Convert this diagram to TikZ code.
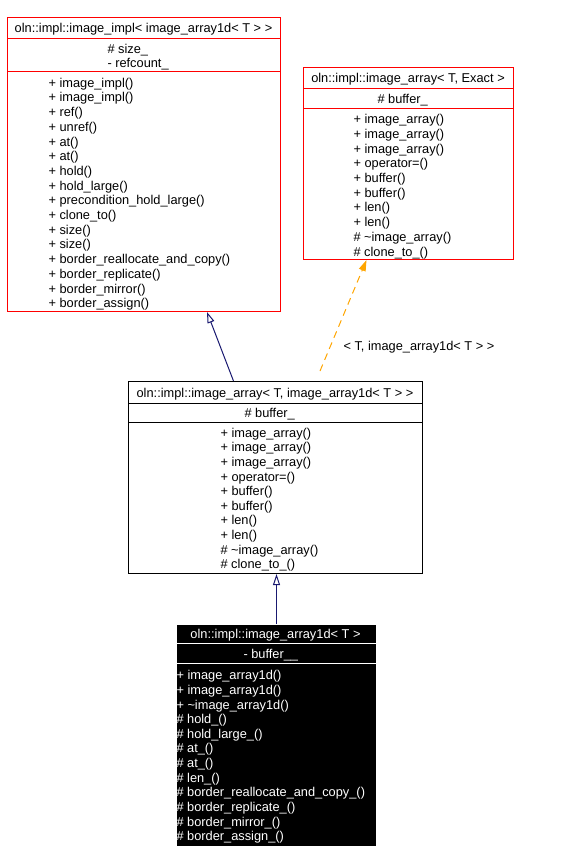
\documentclass[tikz,border=0pt]{standalone}
\usepackage{fontspec}
\setmainfont{Liberation Sans}
\usetikzlibrary{arrows.meta}
\definecolor{boxred}{HTML}{FF0000}
\definecolor{midnight}{HTML}{191970}
\definecolor{tmplorange}{HTML}{FFA500}
\begin{document}
\begin{tikzpicture}[x = 1pt, y = -1pt, line width = 1pt,
	font = \fontsize{12.8}{14}\selectfont,
	classbox/.style = {anchor = north west, inner sep = 0},
	txt/.style = {inner sep = 0, anchor = west, text height = 9.1pt, text depth = 2.7pt, yshift = -1.5pt},
	ttl/.style = {inner sep = 0, text height = 9.1pt, text depth = 2.7pt, yshift = -1.5pt},
	inherit/.style = {midnight, -{Triangle[open, length = 11pt, width = 7pt]}},
	instance/.style = {tmplorange, dash pattern = on 7pt off 5pt, -{Triangle[length = 11pt, width = 7pt]}}]
	\useasboundingbox (0, 0) rectangle (578, 862);

	% oln::impl::image_impl
	\node [classbox, draw = boxred, minimum width = 273pt, minimum height = 294pt] (impl) at (7, 17) {};
	\draw [boxred] (impl.west |- 0, 38) -- (impl.east |- 0, 38);
	\draw [boxred] (impl.west |- 0, 71) -- (impl.east |- 0, 71);
	\node [ttl] (impl-t) at (143.5, 27.5) {oln::impl::image\_impl< image\_array1d< T > >};
	\node [txt] (impl-a1) at (107, 49) {\# size\_};
	\node [txt] (impl-a2) at (107, 63) {- refcount\_};
	\foreach \t [count = \i] in {+ image\_impl(), + image\_impl(), + ref(), + unref(), + at(), + at(), + hold(), + hold\_large(), + precondition\_hold\_large(), + clone\_to(), + size(), + size(), + border\_reallocate\_and\_copy(), + border\_replicate(), + border\_mirror(), + border\_assign()}
		\node [txt] (impl-m\i) at (48, 67.8 + 14.7*\i) {\t};

	% oln::impl::image_array< T, Exact >
	\node [classbox, draw = boxred, minimum width = 210pt, minimum height = 192pt] (exact) at (303, 67) {};
	\draw [boxred] (exact.west |- 0, 88) -- (exact.east |- 0, 88);
	\draw [boxred] (exact.west |- 0, 108) -- (exact.east |- 0, 108);
	\node [ttl] (exact-t) at (408, 78) {oln::impl::image\_array< T, Exact >};
	\node [txt] (exact-a1) at (377, 98.5) {\# buffer\_};
	\foreach \t [count = \i] in {+ image\_array(), + image\_array(), + image\_array(), + operator=(), + buffer(), + buffer(), + len(), + len(), \# \textasciitilde image\_array(), \# clone\_to\_()}
		\node [txt] (exact-m\i) at (353, 104.3 + 14.7*\i) {\t};

	% oln::impl::image_array< T, image_array1d< T > >
	\node [classbox, draw = black, minimum width = 294pt, minimum height = 192pt] (arr) at (128, 381) {};
	\draw (arr.west |- 0, 403) -- (arr.east |- 0, 403);
	\draw (arr.west |- 0, 422) -- (arr.east |- 0, 422);
	\node [ttl] (arr-t) at (275, 392.5) {oln::impl::image\_array< T, image\_array1d< T > >};
	\node [txt] (arr-a1) at (244, 412.5) {\# buffer\_};
	\foreach \t [count = \i] in {+ image\_array(), + image\_array(), + image\_array(), + operator=(), + buffer(), + buffer(), + len(), + len(), \# \textasciitilde image\_array(), \# clone\_to\_()}
		\node [txt] (arr-m\i) at (220, 417.9 + 14.6*\i) {\t};

	% oln::impl::image_array1d< T >
	\node [classbox, fill = black, minimum width = 199pt, minimum height = 221pt] (arr1d) at (176, 624) {};
	\draw [white] (arr1d.west |- 0, 643) -- (arr1d.east |- 0, 643);
	\draw [white] (arr1d.west |- 0, 663) -- (arr1d.east |- 0, 663);
	\node [ttl, white] (arr1d-t) at (275.5, 633.5) {oln::impl::image\_array1d< T >};
	\node [txt, white] (arr1d-a1) at (243, 653.5) {- buffer\_\_};
	\foreach \t [count = \i] in {+ image\_array1d(), + image\_array1d(), + \textasciitilde image\_array1d(), \# hold\_(), \# hold\_large\_(), \# at\_(), \# at\_(), \# len\_(), \# border\_reallocate\_and\_copy\_(), \# border\_replicate\_(), \# border\_mirror\_(), \# border\_assign\_()}
		\node [txt, white] (arr1d-m\i) at (176, 660.4 + 14.64*\i) {\t};

	% relations
	\coordinate (inst) at (320, 371);
	\node [txt] (inst-l) at (343, 345.5) {< T, image\_array1d< T > >};
	\draw [inherit] ([xshift = -42pt]arr.north) -- ([xshift = 63pt]impl.south);
	\draw [instance] (inst) -- ([xshift = -42pt]exact.south);
	\draw [inherit] ([xshift = 0.5pt]arr1d.north) -- ([xshift = 0.5pt]arr1d.north |- arr.south);
\end{tikzpicture}
\end{document}
